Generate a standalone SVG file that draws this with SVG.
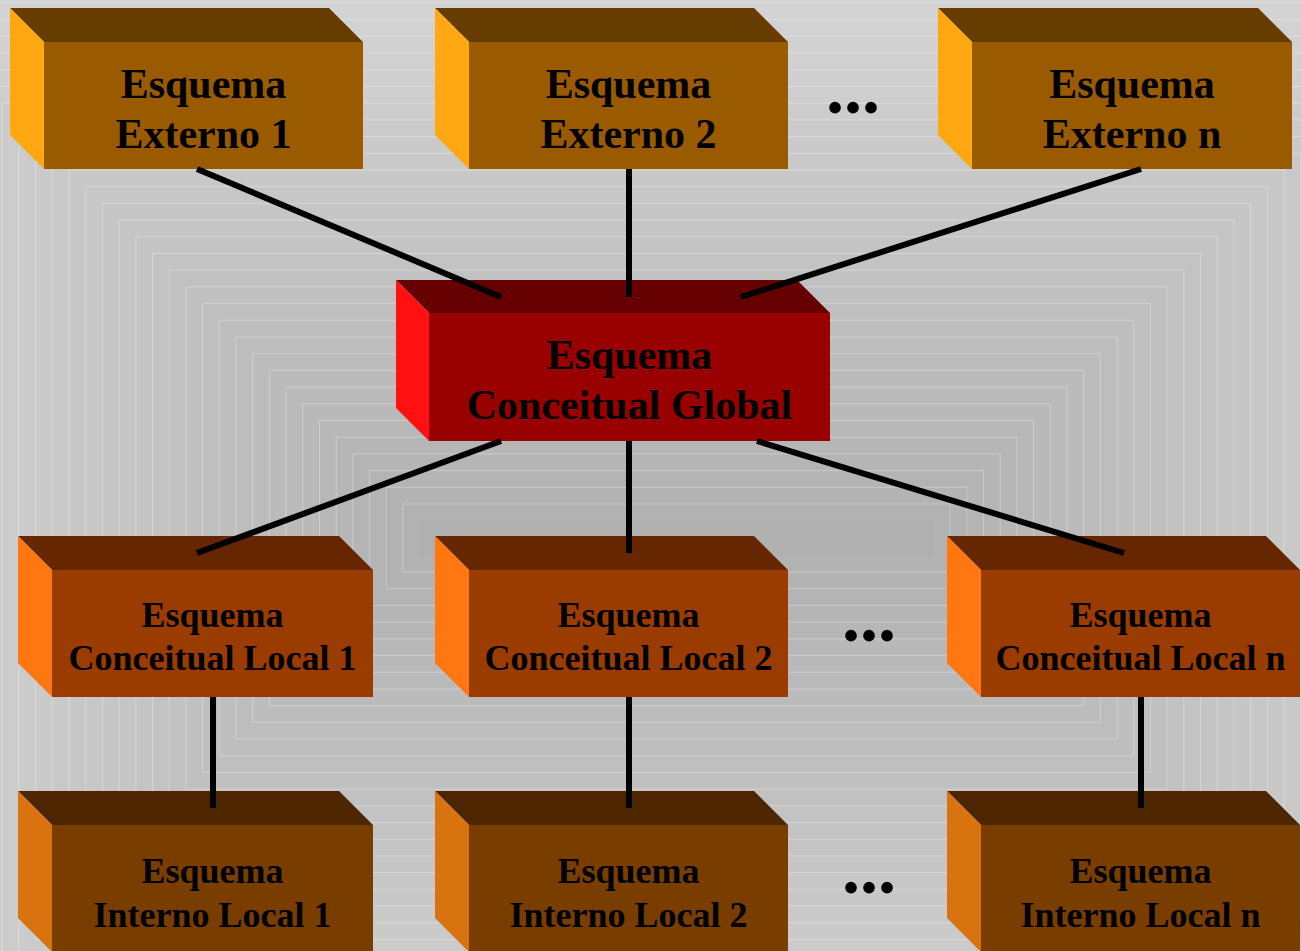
<svg xmlns="http://www.w3.org/2000/svg" width="1301" height="951" viewBox="0 0 1301 951">
  <style>
    .ring { stroke: #ffffff; stroke-opacity: 0.3; stroke-width: 1; }
    .lbl { font-family: "Liberation Serif", "Times New Roman", serif; font-weight: bold; fill: #000; text-anchor: middle; }
    .big { font-size: 42px; }
    .small { font-size: 36px; }
    .dots { font-family: "Liberation Serif", "Times New Roman", serif; font-weight: bold; font-size: 72px; fill: #000; text-anchor: middle; }
    .ext-top { fill: #663c00; } .ext-front { fill: #9a5b00; } .ext-side { fill: #ffa811; }
    .glb-top { fill: #660000; } .glb-front { fill: #990000; } .glb-side { fill: #ff1111; }
    .loc-top { fill: #652600; } .loc-front { fill: #9a3c00; } .loc-side { fill: #ff7711; }
    .int-top { fill: #4d2600; } .int-front { fill: #7a3d00; } .int-side { fill: #d97310; }
    .link { stroke: #000; stroke-width: 6; fill: none; stroke-linecap: butt; }
  </style>

  <!-- background: concentric rectangular gradient bands -->
  <g id="background">
    <rect x="0" y="0" width="1301" height="951" fill="#d4d4d4"/>
    <rect class="ring" x="-98" y="3" width="1549" height="1070" fill="#d3d3d3"/>
    <rect class="ring" x="-81.3" y="19.7" width="1515.6" height="1036.6" fill="#d2d2d2"/>
    <rect class="ring" x="-64.6" y="36.4" width="1482.2" height="1003.2" fill="#d1d1d1"/>
    <rect class="ring" x="-47.9" y="53.1" width="1448.8" height="969.8" fill="#d0d0d0"/>
    <rect class="ring" x="-31.2" y="69.8" width="1415.4" height="936.4" fill="#cfcfcf"/>
    <rect class="ring" x="-14.5" y="86.5" width="1382" height="903" fill="#cecece"/>
    <rect class="ring" x="2.2" y="103.2" width="1348.6" height="869.6" fill="#cccccc"/>
    <rect class="ring" x="18.9" y="119.9" width="1315.2" height="836.2" fill="#cbcbcb"/>
    <rect class="ring" x="35.6" y="136.6" width="1281.8" height="802.8" fill="#cacaca"/>
    <rect class="ring" x="52.3" y="153.3" width="1248.4" height="769.4" fill="#c9c9c9"/>
    <rect class="ring" x="69" y="170" width="1215" height="736" fill="#c8c8c8"/>
    <rect class="ring" x="85.7" y="186.7" width="1181.6" height="702.6" fill="#c7c7c7"/>
    <rect class="ring" x="102.4" y="203.4" width="1148.2" height="669.2" fill="#c6c6c6"/>
    <rect class="ring" x="119.1" y="220.1" width="1114.8" height="635.8" fill="#c5c5c5"/>
    <rect class="ring" x="135.8" y="236.8" width="1081.4" height="602.4" fill="#c4c4c4"/>
    <rect class="ring" x="152.5" y="253.5" width="1048" height="569" fill="#c3c3c3"/>
    <rect class="ring" x="169.2" y="270.2" width="1014.6" height="535.6" fill="#c1c1c1"/>
    <rect class="ring" x="185.9" y="286.9" width="981.2" height="502.2" fill="#c0c0c0"/>
    <rect class="ring" x="202.6" y="303.6" width="947.8" height="468.8" fill="#bfbfbf"/>
    <rect class="ring" x="219.3" y="320.3" width="914.4" height="435.4" fill="#bebebe"/>
    <rect class="ring" x="236" y="337" width="881" height="402" fill="#bdbdbd"/>
    <rect class="ring" x="252.7" y="353.7" width="847.6" height="368.6" fill="#bcbcbc"/>
    <rect class="ring" x="269.4" y="370.4" width="814.2" height="335.2" fill="#bbbbbb"/>
    <rect class="ring" x="286.1" y="387.1" width="780.8" height="301.8" fill="#bababa"/>
    <rect class="ring" x="302.8" y="403.8" width="747.4" height="268.4" fill="#b9b9b9"/>
    <rect class="ring" x="319.5" y="420.5" width="714" height="235" fill="#b8b8b8"/>
    <rect class="ring" x="336.2" y="437.2" width="680.6" height="201.6" fill="#b6b6b6"/>
    <rect class="ring" x="352.9" y="453.9" width="647.2" height="168.2" fill="#b5b5b5"/>
    <rect class="ring" x="369.6" y="470.6" width="613.8" height="134.8" fill="#b4b4b4"/>
    <rect class="ring" x="386.3" y="487.3" width="580.4" height="101.4" fill="#b3b3b3"/>
    <rect class="ring" x="403" y="504" width="547" height="68" fill="#b2b2b2"/>
    <rect x="419.7" y="520.7" width="513.6" height="34.6" fill="#b0b0b0"/>
  </g>

  <!-- external schemas -->
  <g id="externo-1">
    <polygon class="ext-top" points="10,8 329,8 363,42 44,42"/>
    <polygon class="ext-side" points="10,8 44,42 44,169 10,135"/>
    <rect class="ext-front" x="44" y="42" width="319" height="127"/>
    <text class="lbl big" x="203.5" y="98">Esquema</text>
    <text class="lbl big" x="203.5" y="148">Externo 1</text>
  </g>
  <g id="externo-2">
    <polygon class="ext-top" points="435,8 754,8 788,42 469,42"/>
    <polygon class="ext-side" points="435,8 469,42 469,169 435,135"/>
    <rect class="ext-front" x="469" y="42" width="319" height="127"/>
    <text class="lbl big" x="628.5" y="98">Esquema</text>
    <text class="lbl big" x="628.5" y="148">Externo 2</text>
  </g>
  <g id="externo-n">
    <polygon class="ext-top" points="938,8 1258,8 1292,42 972,42"/>
    <polygon class="ext-side" points="938,8 972,42 972,169 938,135"/>
    <rect class="ext-front" x="972" y="42" width="320" height="127"/>
    <text class="lbl big" x="1132" y="98">Esquema</text>
    <text class="lbl big" x="1132" y="148">Externo n</text>
  </g>
  <text id="dots-externo" class="dots" x="853" y="113">...</text>

  <!-- global conceptual schema -->
  <g id="conceitual-global">
    <polygon class="glb-top" points="396,280 797,280 830,313 429,313"/>
    <polygon class="glb-side" points="396,280 429,313 429,441 396,408"/>
    <rect class="glb-front" x="429" y="313" width="401" height="128"/>
    <text class="lbl big" x="629.5" y="369">Esquema</text>
    <text class="lbl big" x="629.5" y="419">Conceitual Global</text>
  </g>

  <!-- local conceptual schemas -->
  <g id="conceitual-local-1">
    <polygon class="loc-top" points="18,536 339,536 373,570 52,570"/>
    <polygon class="loc-side" points="18,536 52,570 52,697 18,663"/>
    <rect class="loc-front" x="52" y="570" width="321" height="127"/>
    <text class="lbl small" x="212.5" y="627">Esquema</text>
    <text class="lbl small" x="212.5" y="670">Conceitual Local 1</text>
  </g>
  <g id="conceitual-local-2">
    <polygon class="loc-top" points="435,536 754,536 788,570 469,570"/>
    <polygon class="loc-side" points="435,536 469,570 469,697 435,663"/>
    <rect class="loc-front" x="469" y="570" width="319" height="127"/>
    <text class="lbl small" x="628.5" y="627">Esquema</text>
    <text class="lbl small" x="628.5" y="670">Conceitual Local 2</text>
  </g>
  <g id="conceitual-local-n">
    <polygon class="loc-top" points="947,536 1266,536 1300,570 981,570"/>
    <polygon class="loc-side" points="947,536 981,570 981,697 947,663"/>
    <rect class="loc-front" x="981" y="570" width="319" height="127"/>
    <text class="lbl small" x="1140.5" y="627">Esquema</text>
    <text class="lbl small" x="1140.5" y="670">Conceitual Local n</text>
  </g>
  <text id="dots-local" class="dots" x="869" y="641">...</text>

  <!-- local internal schemas -->
  <g id="interno-local-1">
    <polygon class="int-top" points="18,791 339,791 373,825 52,825"/>
    <polygon class="int-side" points="18,791 52,825 52,952 18,918"/>
    <rect class="int-front" x="52" y="825" width="321" height="127"/>
    <text class="lbl small" x="212.5" y="883">Esquema</text>
    <text class="lbl small" x="212.5" y="927">Interno Local 1</text>
  </g>
  <g id="interno-local-2">
    <polygon class="int-top" points="435,791 754,791 788,825 469,825"/>
    <polygon class="int-side" points="435,791 469,825 469,952 435,918"/>
    <rect class="int-front" x="469" y="825" width="319" height="127"/>
    <text class="lbl small" x="628.5" y="883">Esquema</text>
    <text class="lbl small" x="628.5" y="927">Interno Local 2</text>
  </g>
  <g id="interno-local-n">
    <polygon class="int-top" points="947,791 1266,791 1300,825 981,825"/>
    <polygon class="int-side" points="947,791 981,825 981,952 947,918"/>
    <rect class="int-front" x="981" y="825" width="319" height="127"/>
    <text class="lbl small" x="1140.5" y="883">Esquema</text>
    <text class="lbl small" x="1140.5" y="927">Interno Local n</text>
  </g>
  <text id="dots-interno" class="dots" x="869" y="893">...</text>

  <!-- connectors -->
  <g id="connectors">
    <line class="link" x1="197" y1="169" x2="501" y2="297"/>
    <line class="link" x1="629" y1="169" x2="629" y2="297"/>
    <line class="link" x1="1141" y1="169" x2="741" y2="297"/>
    <line class="link" x1="501" y1="441" x2="197" y2="553"/>
    <line class="link" x1="629" y1="441" x2="629" y2="553"/>
    <line class="link" x1="757" y1="441" x2="1124" y2="553"/>
    <line class="link" x1="213" y1="697" x2="213" y2="808"/>
    <line class="link" x1="629" y1="697" x2="629" y2="808"/>
    <line class="link" x1="1141" y1="697" x2="1141" y2="808"/>
  </g>
</svg>
